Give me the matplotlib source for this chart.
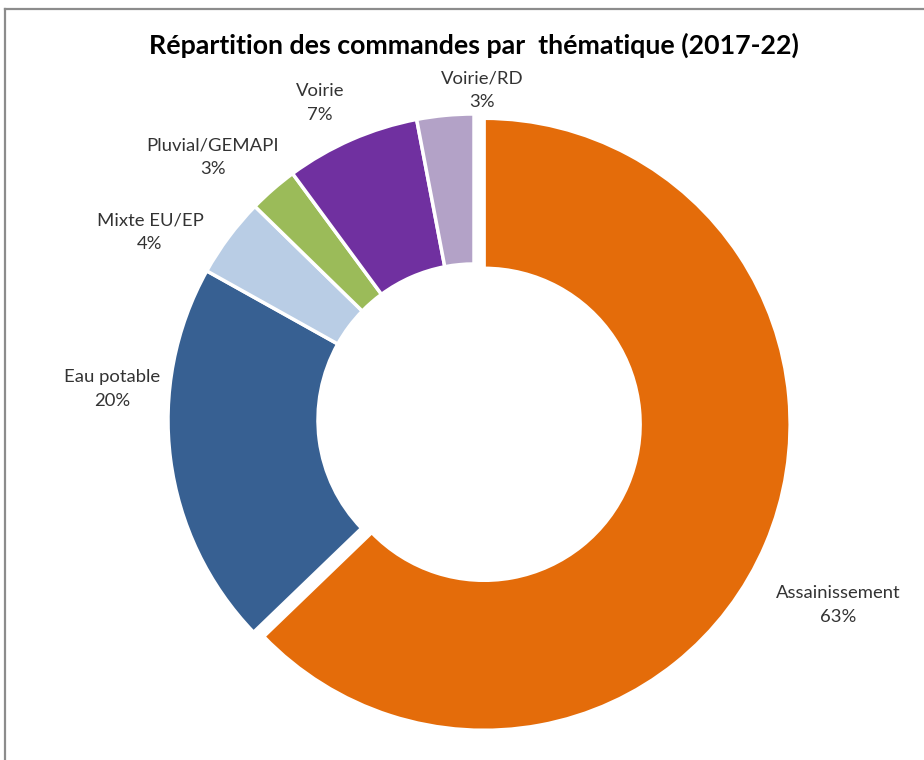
import matplotlib
matplotlib.use("Agg")
import matplotlib.pyplot as plt
from matplotlib.lines import Line2D

# data (share in %)
categories = ["Assainissement", "Eau potable", "Mixte EU/EP", "Pluvial/GEMAPI", "Voirie", "Voirie/RD"]
shares = [62.8, 20.3, 4.2, 2.6, 7.1, 3.0]
colors = ["#E46C0A", "#376092", "#B9CDE5", "#9BBB59", "#7030A0", "#B3A2C7"]
explode = [11, 0, 0, 0, 0, 0]

# layout, in pixels (y measured from the bottom)
W, H = 924, 760
center = (474, 340)
radius = 306
ring = 150
label_pos = [(838, 155), (112, 371), (150, 528), (213, 603), (320, 657), (482, 670)]

plt.rcParams["font.family"] = ["Lato", "DejaVu Sans"]

fig = plt.figure(figsize=(W / 100, H / 100), dpi=100)
ax = fig.add_axes([0, 0, 1, 1])

ax.pie(
    shares,
    colors=colors,
    explode=explode,
    center=center,
    radius=radius,
    startangle=90,
    counterclock=False,
    wedgeprops=dict(width=ring, edgecolor="white", linewidth=2.5),
)
ax.set_xlim(0, W)
ax.set_ylim(0, H)
ax.set_aspect("equal")
ax.set_axis_off()

for name, share, (x, y) in zip(categories, shares, label_pos):
    ax.text(x, y, f"{name}\n{share:.0f}%", ha="center", va="center",
            fontsize=13.3, color="#333333", linespacing=1.6)

fig.text(474 / W, 1 - 45 / H, "Répartition des commandes par  thématique (2017-22)",
         ha="center", va="center", fontsize=19.3, fontweight="bold", color="black")

# chart frame (only left and top edges visible)
fig.add_artist(Line2D([5 / W, 5 / W], [0, 1 - 9 / H], transform=fig.transFigure, color="#8C8C8C", linewidth=1.6))
fig.add_artist(Line2D([5 / W, 1], [1 - 9 / H, 1 - 9 / H], transform=fig.transFigure, color="#8C8C8C", linewidth=1.6))

fig.savefig("out.png", dpi=100)
